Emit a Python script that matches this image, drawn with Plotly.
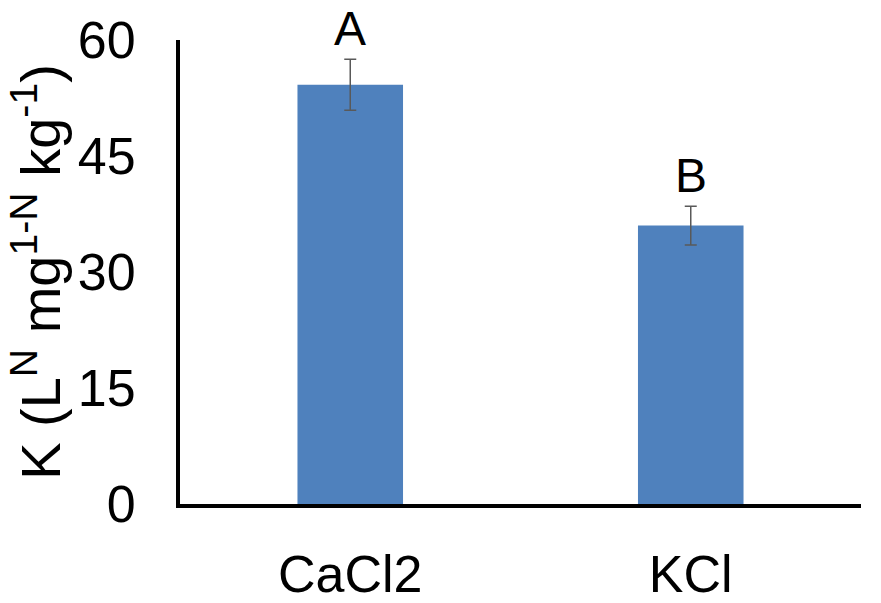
import plotly.graph_objects as go

categories = ["CaCl2", "KCl"]
values = [54.2, 36.0]
errors = [3.3, 2.5]
letters = ["A", "B"]
y_ticks = [0, 15, 30, 45, 60]

FONT = "Liberation Sans, Arial, sans-serif"

fig = go.Figure()
fig.add_trace(go.Bar(
    x=categories, y=values,
    marker=dict(color="#4F81BD", line=dict(width=0)),
    width=0.31,
    error_y=dict(type="data", array=errors, color="#595959", thickness=1.5, width=6),
))

for c, v, e, t in zip(categories, values, errors, letters):
    fig.add_annotation(x=c, y=v + e, text=t, showarrow=False, yanchor="bottom",
                       yshift=2, font=dict(family=FONT, size=48, color="black"))

fig.update_layout(
    width=881, height=603,
    margin=dict(l=180, r=20, t=40, b=99),
    plot_bgcolor="white", paper_bgcolor="white",
    showlegend=False,
    font=dict(family=FONT, color="black"),
    xaxis=dict(
        range=[-0.5, 1.5], showline=True, linecolor="black", linewidth=4,
        ticks="", showgrid=False, tickfont=dict(size=52, family=FONT),
        ticklabelstandoff=22, automargin=False,
    ),
    yaxis=dict(
        range=[0, 60], tickvals=y_ticks, showline=True, linecolor="black", linewidth=4,
        ticks="", showgrid=False, zeroline=False, tickfont=dict(size=52, family=FONT),
        ticklabelstandoff=30, automargin=False,
        title=dict(text="K (L<sup>N</sup> mg<sup>1-N</sup> kg<sup>-1</sup>)",
                   font=dict(size=56, family=FONT), standoff=0),
    ),
)

fig.write_html("out.html")
